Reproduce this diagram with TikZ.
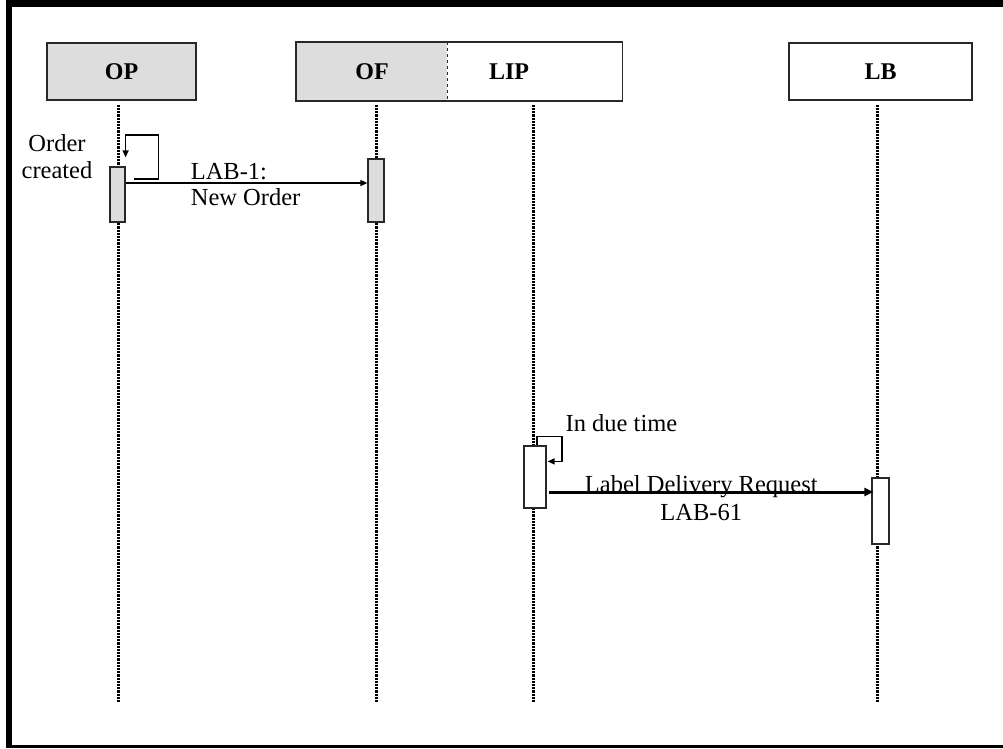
\documentclass[tikz,border=0pt]{standalone}
\usepackage{fontspec}
\setmainfont{Liberation Serif}
\definecolor{lanegray}{RGB}{221,221,221}
\definecolor{edgegray}{RGB}{40,40,40}
\usetikzlibrary{arrows.meta, positioning, calc}

\begin{document}
\begin{tikzpicture}[
  x=1pt, y=-1pt,
  every node/.style={font=\fontsize{24.5}{25}\selectfont},
  head/.style={rectangle, draw=edgegray, line width=1.6pt, minimum height=57pt, inner sep=0pt, font=\fontsize{24}{25}\selectfont\bfseries},
  act/.style={rectangle, draw=edgegray, line width=1.2pt, inner sep=0pt},
  life/.style={line width=3pt, dash pattern=on 2.2pt off 1pt},
  msg/.style={-{Triangle[length=7pt,width=6pt]}, line width=1.3pt},
  bigmsg/.style={-{Triangle[length=9pt,width=8pt]}, line width=3pt}
]
  \useasboundingbox (0,0) rectangle (1003,748);
  \fill (6,0) rectangle (1003,7);
  \fill (6,0) rectangle (12,748);
  \fill (6,745) rectangle (1003,748);

  \node[head, fill=lanegray, minimum width=149pt] (OP) at (121.5,71.5) {OP};
  \node[head, draw=none, fill=lanegray, minimum width=150pt] (OF) at (372,71.5) {OF};
  \node[head, draw=none, fill=white, minimum width=173pt, right=0pt of OF] (LIP) {\makebox[92pt][l]{LIP}};
  \draw[edgegray, line width=1.6pt] (OF.north west) rectangle (LIP.south east);
  \draw[edgegray, dashed, line width=0.8pt] (OF.north east) -- (OF.south east);
  \node[head, fill=white, minimum width=183pt] (LB) at (880.5,71.5) {LB};

  \coordinate (OP-end) at (118,702);
  \coordinate (OF-end) at (376,702);
  \coordinate (LIP-end) at (533,702);
  \coordinate (LB-end) at (877,702);
  \foreach \lane in {OP,OF,LIP,LB}
    \draw[life] ([yshift=-4pt]\lane-end |- \lane.south) -- (\lane-end);

  \node[act, fill=lanegray, minimum width=15pt, minimum height=55pt] (OPact) at (117.5,194.5) {};
  \node[act, fill=lanegray, minimum width=16pt, minimum height=63pt] (OFact) at (376,190.5) {};
  \node[act, fill=white, minimum width=22pt, minimum height=62pt] (LIPact) at (535,477) {};
  \node[act, fill=white, minimum width=17pt, minimum height=66pt] (LBact) at (880.5,511) {};

  \node[align=center, inner sep=0pt] (created) at (57,157) {Order\\[2pt]created};
  \draw[msg] ([xshift=8pt,yshift=15.5pt]OPact.east) -- ++(25,0) -- ++(0,-44) -| ([yshift=9pt]OPact.north east);
  \draw[msg] ([yshift=11.5pt]OPact.east) -- ([yshift=11.5pt]OPact.east -| OFact.west)
    node[pos=0.267, anchor=west, align=left, inner sep=0pt, yshift=-2pt] (lab1) {LAB-1:\\[1pt]New Order};

  \draw[msg] ([xshift=2pt]LIPact.north) -- ++(0,-9) -- ++(25,0)
    node[anchor=south west, inner sep=0pt, xshift=3pt, yshift=4pt] (due) {In due time}
    |- ([xshift=1pt,yshift=-16pt]LIPact.north east);
  \draw[bigmsg] ([xshift=2pt,yshift=-15pt]LIPact.east) -- ([xshift=2pt,yshift=-15pt]LIPact.east -| LBact.west)
    node[pos=0.47, align=center, inner sep=0pt, yshift=-6pt] (lab61) {Label Delivery Request\\[3pt]LAB-61};
\end{tikzpicture}
\end{document}
